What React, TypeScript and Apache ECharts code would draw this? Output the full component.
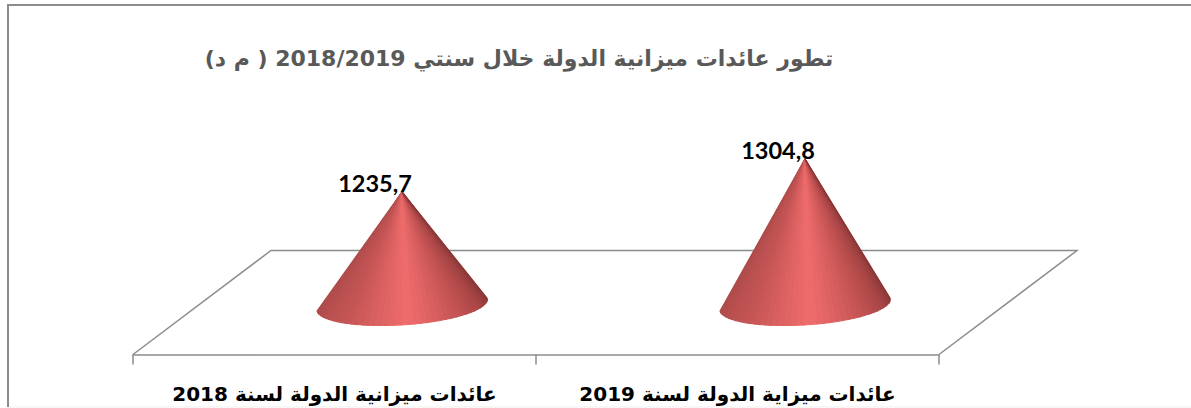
import React, { useEffect, useRef } from "react";
import * as echarts from "echarts";

const titleText = "تطور عائدات ميزانية الدولة خلال سنتي 2018/2019 ( م د)";
const categories = ["عائدات ميزانية الدولة لسنة 2018", "عائدات ميزاية الدولة لسنة 2019"];
const values = [1235.7, 1304.8];
const axisMin = 1000;
const axisMax = 1400;

const ARABIC = '"DejaVu Sans", "Noto Sans", sans-serif';
const stops: [number, number[]][] = [
  [0, [172, 74, 74]],
  [0.25, [196, 84, 84]],
  [0.5, [240, 108, 108]],
  [0.72, [194, 82, 82]],
  [1, [136, 54, 54]],
];
function shade(t: number) {
  for (let i = 1; i < stops.length; i++) {
    if (t <= stops[i][0]) {
      const [a, ca] = stops[i - 1];
      const [b, cb] = stops[i];
      const f = (t - a) / (b - a);
      const c = ca.map((v, k) => Math.round(v + (cb[k] - v) * f));
      return `rgb(${c[0]},${c[1]},${c[2]})`;
    }
  }
  return "rgb(136,54,54)";
}

function renderCone(params: any, api: any) {
  const depthX = 67.5;
  const depthY = -50;
  const base = api.coord([api.value(0), axisMin]);
  const top = api.coord([api.value(0), api.value(1)]);
  const cx = base[0] + depthX;
  const cy = base[1] + depthY;
  const apex = [top[0] + depthX, top[1] + depthY];
  const n = 40;
  const pt = (th: number) => [
    cx + 85 * Math.cos(th) + 6 * Math.sin(th),
    cy - 6.6 * Math.cos(th) + 20 * Math.sin(th),
  ];
  const children: any[] = [];
  for (let i = 0; i < n; i++) {
    const t0 = i / n;
    const t1 = (i + 1) / n;
    const col = shade((t0 + t1) / 2);
    children.push({
      type: "polygon",
      shape: { points: [apex, pt(Math.PI * (1 - t0)), pt(Math.PI * (1 - t1))] },
      style: { fill: col, stroke: col, lineWidth: 1.1 },
    });
  }
  children.push({
    type: "text",
    style: {
      text: String(api.value(1)).replace(".", ","),
      x: apex[0] - 27,
      y: apex[1] - 8.5,
      align: "center",
      verticalAlign: "middle",
      fill: "#000",
      font: 'bold 23.5px Lato, "Open Sans", sans-serif',
    },
  });
  return { type: "group", children };
}

export default function App() {
  const ref = useRef<HTMLDivElement>(null);
  useEffect(() => {
    const chart = echarts.init(ref.current!, undefined, { renderer: "svg" });
    chart.setOption({
      animation: false,
      backgroundColor: "#fff",
      title: {
        text: titleText,
        left: 514,
        top: 42,
        textAlign: "center",
        textStyle: { color: "#595959", fontSize: 22, fontWeight: "bold", fontFamily: ARABIC },
      },
      grid: { left: 133, right: 252, top: 163.5, bottom: 53.5 },
      xAxis: {
        type: "category",
        data: categories,
        axisLine: { lineStyle: { color: "#8c8c8c", width: 1.5 } },
        axisTick: { show: true, length: 10, interval: 0, alignWithLabel: false, lineStyle: { color: "#8c8c8c", width: 1.5 } },
        axisLabel: {
          color: "#000",
          fontSize: 20,
          fontWeight: "bold",
          fontFamily: ARABIC,
          margin: 29,
          interval: 0,
          hideOverlap: false,
        },
      },
      yAxis: { type: "value", min: axisMin, max: axisMax, show: false },
      graphic: [
        {
          type: "rect",
          z: -1,
          shape: { x: 8, y: 5, width: 1300, height: 402 },
          style: { fill: "#fff", stroke: "#efefef", lineWidth: 1 },
        },
        {
          type: "polyline",
          z: -1,
          shape: { points: [[8, 407], [8, 5], [1191, 5]] },
          style: { fill: "none", stroke: "#8c8c8c", lineWidth: 2 },
        },
        {
          type: "polyline",
          z: 0,
          shape: { points: [[133, 354.5], [271, 250.5], [1077, 250.5], [939, 354.5]] },
          style: { fill: "none", stroke: "#8c8c8c", lineWidth: 1.5 },
        },
      ],
      series: [
        {
          type: "custom",
          z: 5,
          clip: false,
          renderItem: renderCone,
          encode: { x: 0, y: 1 },
          data: values.map((v, i) => [i, v]),
        },
      ],
    });
    return () => chart.dispose();
  }, []);
  return <div ref={ref} style={{ position: "fixed", left: 0, top: 0, width: 1191, height: 408 }} />;
}
